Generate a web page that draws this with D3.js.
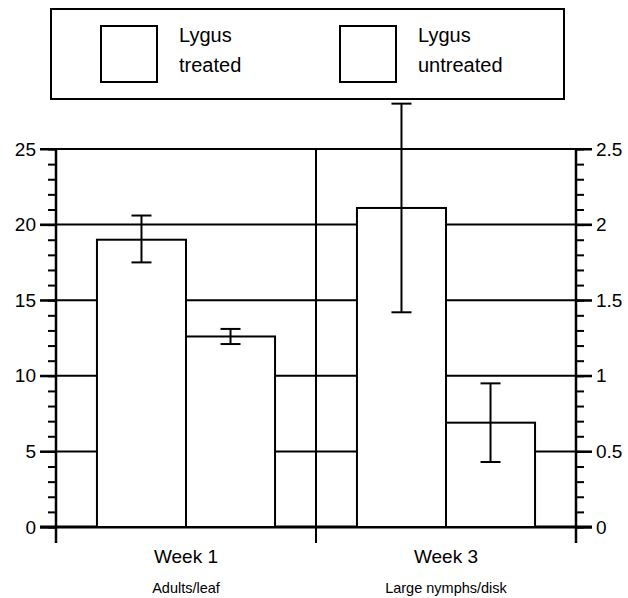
<!DOCTYPE html>
<html>
<head>
<meta charset="utf-8">
<script src="https://cdn.jsdelivr.net/npm/d3@7"></script>
<style>
  body { margin: 0; background: #fff; }
  text { font-family: Arial, "Liberation Sans", sans-serif; fill: #000; }
  .domain { display: none; }
</style>
</head>
<body>
<div id="chart"></div>
<script>
// data
var weeks = ["Week 1", "Week 3"];
var subtitles = ["Adults/leaf", "Large nymphs/disk"];
var series = ["Lygus treated", "Lygus untreated"];
var legendLines = [["Lygus", "treated"], ["Lygus", "untreated"]];
// week 1 on left axis, week 3 on right axis
var meanValues = [[19.0, 12.6], [2.11, 0.69]];
var lowValues = [[17.5, 12.1], [1.42, 0.43]];
var highValues = [[20.6, 13.1], [2.80, 0.95]];
var leftTicks = [0, 5, 10, 15, 20, 25];
var rightTicks = [0, 0.5, 1, 1.5, 2, 2.5];

var svgWidth = 628;
var svgHeight = 598;
var margin = { top: 149, right: 52, bottom: 71, left: 56 };
var width = svgWidth - margin.left - margin.right;
var height = svgHeight - margin.top - margin.bottom;

var svg = d3.select("#chart")
  .append("svg")
  .attr("width", svgWidth)
  .attr("height", svgHeight);

var chartGroup = svg.append("g")
  .attr("transform", `translate(${margin.left}, ${margin.top})`);

// scales
var x0 = d3.scaleBand().domain(weeks).range([0, width]).padding(0);
var x1 = d3.scaleBand().domain(series).range([0, x0.bandwidth()])
  .paddingInner(0).paddingOuter(0.46);
var yLeft = d3.scaleLinear().domain([0, 25]).range([height, 0]);
var yRight = d3.scaleLinear().domain([0, 2.5]).range([height, 0]);
var yFor = [yLeft, yRight];

// horizontal grid lines (also extend out through the major ticks)
chartGroup.append("g")
  .selectAll("line")
  .data(leftTicks)
  .enter()
  .append("line")
  .attr("x1", -16)
  .attr("x2", width + 16)
  .attr("y1", d => yLeft(d))
  .attr("y2", d => yLeft(d))
  .attr("stroke", "#000")
  .attr("stroke-width", d => d === 0 ? 3 : 2);

// divider between the weeks
chartGroup.append("line")
  .attr("x1", x0("Week 3"))
  .attr("x2", x0("Week 3"))
  .attr("y1", 0)
  .attr("y2", height + 16)
  .attr("stroke", "#000")
  .attr("stroke-width", 2);

// bars
var groups = chartGroup.selectAll(".week")
  .data(weeks)
  .enter()
  .append("g")
  .attr("class", "week")
  .attr("transform", d => `translate(${x0(d)}, 0)`);

groups.each(function (w, i) {
  var g = d3.select(this);
  var y = yFor[i];
  g.selectAll("rect")
    .data(series)
    .enter()
    .append("rect")
    .attr("x", s => x1(s))
    .attr("y", (s, j) => y(meanValues[i][j]))
    .attr("width", x1.bandwidth())
    .attr("height", (s, j) => height - y(meanValues[i][j]))
    .attr("fill", "#fff")
    .attr("stroke", "#000")
    .attr("stroke-width", 2);

  // error bars
  var err = g.selectAll(".err")
    .data(series)
    .enter()
    .append("g")
    .attr("class", "err")
    .attr("stroke", "#000")
    .attr("stroke-width", 2);
  err.append("line")
    .attr("x1", s => x1(s) + x1.bandwidth() / 2)
    .attr("x2", s => x1(s) + x1.bandwidth() / 2)
    .attr("y1", (s, j) => y(lowValues[i][j]))
    .attr("y2", (s, j) => y(highValues[i][j]));
  err.append("line")
    .attr("x1", s => x1(s) + x1.bandwidth() / 2 - 10)
    .attr("x2", s => x1(s) + x1.bandwidth() / 2 + 10)
    .attr("y1", (s, j) => y(lowValues[i][j]))
    .attr("y2", (s, j) => y(lowValues[i][j]));
  err.append("line")
    .attr("x1", s => x1(s) + x1.bandwidth() / 2 - 10)
    .attr("x2", s => x1(s) + x1.bandwidth() / 2 + 10)
    .attr("y1", (s, j) => y(highValues[i][j]))
    .attr("y2", (s, j) => y(highValues[i][j]));
});

// left axis
var leftAxis = d3.axisLeft(yLeft).tickValues(leftTicks).tickSize(16).tickPadding(4);
var leftMinor = d3.axisLeft(yLeft).ticks(25).tickSize(8).tickFormat("");
chartGroup.append("g").call(leftMinor)
  .selectAll("line").attr("stroke-width", 2);
var gl = chartGroup.append("g").call(leftAxis);
gl.selectAll("line").attr("stroke-width", 2);
gl.selectAll("text").attr("font-size", "19px");

// right axis
var rightAxis = d3.axisRight(yRight).tickValues(rightTicks).tickSize(16).tickPadding(4)
  .tickFormat(d => String(d));
var rightMinor = d3.axisRight(yRight).ticks(25).tickSize(8).tickFormat("");
chartGroup.append("g").attr("transform", `translate(${width}, 0)`).call(rightMinor)
  .selectAll("line").attr("stroke-width", 2);
var gr = chartGroup.append("g").attr("transform", `translate(${width}, 0)`).call(rightAxis);
gr.selectAll("line").attr("stroke-width", 2);
gr.selectAll("text").attr("font-size", "19px");

// vertical axis lines, going below the baseline
[0, width].forEach(function (xp) {
  chartGroup.append("line")
    .attr("x1", xp).attr("x2", xp)
    .attr("y1", 0).attr("y2", height + 16)
    .attr("stroke", "#000")
    .attr("stroke-width", 2.5);
});

// category labels
chartGroup.selectAll(".week-label")
  .data(weeks)
  .enter()
  .append("text")
  .attr("class", "week-label")
  .attr("x", d => x0(d) + x0.bandwidth() / 2)
  .attr("y", height + 36)
  .attr("text-anchor", "middle")
  .attr("font-size", "19px")
  .text(d => d);

chartGroup.selectAll(".sub-label")
  .data(subtitles)
  .enter()
  .append("text")
  .attr("class", "sub-label")
  .attr("x", (d, i) => x0(weeks[i]) + x0.bandwidth() / 2)
  .attr("y", height + 66)
  .attr("text-anchor", "middle")
  .attr("font-size", "14.5px")
  .text(d => d);

// legend
var legend = svg.append("g");
legend.append("rect")
  .attr("x", 51)
  .attr("y", 9)
  .attr("width", 513)
  .attr("height", 90)
  .attr("fill", "#fff")
  .attr("stroke", "#000")
  .attr("stroke-width", 2);

var items = legend.selectAll(".item")
  .data(series)
  .enter()
  .append("g")
  .attr("class", "item")
  .attr("transform", (d, i) => `translate(${101 + i * 239}, 26)`);

items.append("rect")
  .attr("width", 56)
  .attr("height", 56)
  .attr("fill", "#fff")
  .attr("stroke", "#000")
  .attr("stroke-width", 2);

items.each(function (d, i) {
  var t = d3.select(this).append("text")
    .attr("font-size", "20px");
  legendLines[i].forEach(function (line, k) {
    t.append("tspan")
      .attr("x", 78)
      .attr("y", 16 + k * 30)
      .text(line);
  });
});
</script>
</body>
</html>
